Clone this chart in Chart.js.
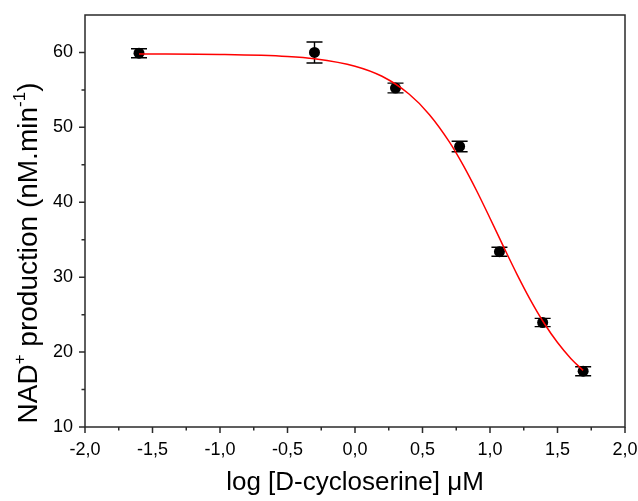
<!DOCTYPE html>
<html>
<head>
<meta charset="utf-8">
<script src="https://cdn.jsdelivr.net/npm/chart.js@4.4.1/dist/chart.umd.min.js"></script>
<style>
  html, body { margin: 0; padding: 0; background: #fff; }
  #wrap { width: 638px; height: 501px; }
</style>
</head>
<body>
<div id="wrap"><canvas id="myChart"></canvas></div>
<script>
// measured points (log concentration, rate, std error)
const logConc = [-1.6, -0.3, 0.3, 0.775, 1.07, 1.39, 1.69];
const rate = [59.9, 60.0, 55.25, 47.45, 33.4, 23.95, 17.45];
const rateErr = [0.6, 1.4, 0.65, 0.7, 0.6, 0.55, 0.6];

// dose-response fit curve
const fitX = [-1.6, -1.0, -0.5, -0.3, 0.0, 0.2, 0.4, 0.55, 0.7, 0.8, 0.9, 1.0, 1.1, 1.2, 1.3, 1.4, 1.5, 1.6, 1.69];
const fitY = [59.8, 59.73, 59.46, 59.16, 58.17, 56.82, 54.45, 51.73, 48.03, 44.99, 41.57, 37.87, 34.08, 30.38, 26.94, 23.88, 21.27, 19.12, 17.56];

// axis ticks
const xTicks = [-2.0, -1.5, -1.0, -0.5, 0.0, 0.5, 1.0, 1.5, 2.0];
const xMinor = [-1.75, -1.25, -0.75, -0.25, 0.25, 0.75, 1.25, 1.75];
const yTicks = [10, 20, 30, 40, 50, 60];
const yMinor = [15, 25, 35, 45, 55];

const fontName = "'Liberation Sans', Arial, sans-serif";

const frameAndBars = {
  id: "frameAndBars",
  beforeDatasetsDraw(chart) {
    const c = chart.ctx;
    const xs = chart.scales.x, ys = chart.scales.y;
    c.save();
    c.strokeStyle = "#000";
    c.lineWidth = 1.4;
    for (let i = 0; i < logConc.length; i++) {
      const px = xs.getPixelForValue(logConc[i]);
      const top = ys.getPixelForValue(rate[i] + rateErr[i]);
      const bot = ys.getPixelForValue(rate[i] - rateErr[i]);
      c.beginPath();
      c.moveTo(px, top); c.lineTo(px, bot);
      c.moveTo(px - 8, top); c.lineTo(px + 8, top);
      c.moveTo(px - 8, bot); c.lineTo(px + 8, bot);
      c.stroke();
    }
    c.restore();
  },
  afterDraw(chart) {
    const c = chart.ctx;
    const a = chart.chartArea;
    const xs = chart.scales.x, ys = chart.scales.y;
    c.save();
    c.strokeStyle = "#2a2a2a";
    c.lineWidth = 1.5;
    c.strokeRect(a.left, a.top, a.right - a.left, a.bottom - a.top);

    // tick marks, pointing out of the box
    c.beginPath();
    xTicks.forEach(v => { const p = xs.getPixelForValue(v); c.moveTo(p, a.bottom); c.lineTo(p, a.bottom + 6); });
    xMinor.forEach(v => { const p = xs.getPixelForValue(v); c.moveTo(p, a.bottom); c.lineTo(p, a.bottom + 3.5); });
    yTicks.forEach(v => { const p = ys.getPixelForValue(v); c.moveTo(a.left, p); c.lineTo(a.left - 6, p); });
    yMinor.forEach(v => { const p = ys.getPixelForValue(v); c.moveTo(a.left, p); c.lineTo(a.left - 3.5, p); });
    c.stroke();

    // axis titles
    c.fillStyle = "#000";
    c.textBaseline = "alphabetic";
    c.textAlign = "center";
    c.font = "26px " + fontName;
    c.fillText("log [D-cycloserine] \u03bcM", (a.left + a.right) / 2, 490);

    // y title with superscripts, drawn rotated
    const big = "28px " + fontName, small = "17px " + fontName;
    const parts = [["NAD", big, 0], ["+", small, -12], [" production (nM.min", big, 0], ["-1", small, -12], [")", big, 0]];
    let total = 0;
    parts.forEach(p => { c.font = p[1]; total += c.measureText(p[0]).width; });
    c.translate(37, 253);
    c.rotate(-Math.PI / 2);
    c.textAlign = "left";
    let x = -total / 2;
    parts.forEach(p => {
      c.font = p[1];
      c.fillText(p[0], x, p[2]);
      x += c.measureText(p[0]).width;
    });
    c.restore();
  }
};

const data = {
  datasets: [
    {
      label: "fit",
      data: fitX.map((v, i) => ({x: v, y: fitY[i]})),
      showLine: true,
      borderColor: "#ff0000",
      borderWidth: 1.5,
      pointRadius: 0,
      cubicInterpolationMode: "monotone",
    },
    {
      label: "rate",
      data: logConc.map((v, i) => ({x: v, y: rate[i]})),
      backgroundColor: "#000",
      borderColor: "#000",
      pointRadius: 5.5,
      pointBorderWidth: 0,
    },
  ],
};

const config = {
  type: "scatter",
  data: data,
  options: {
    responsive: false,
    animation: false,
    devicePixelRatio: 1,
    layout: { padding: { top: 15, right: 13, left: 0, bottom: 0 } },
    plugins: { legend: { display: false }, tooltip: { enabled: false } },
    scales: {
      x: {
        min: -2, max: 2,
        afterBuildTicks: s => { s.ticks = xTicks.map(v => ({value: v})); },
        afterFit: s => { s.height = 74; s.paddingLeft = 0; s.paddingRight = 0; },
        grid: { display: false, drawTicks: false },
        border: { display: false },
        ticks: {
          color: "#000",
          font: { family: fontName, size: 18 },
          padding: 12,
          maxRotation: 0,
          callback: v => Number(v).toFixed(1).replace(".", ","),
        },
      },
      y: {
        min: 10, max: 65,
        afterBuildTicks: s => { s.ticks = yTicks.map(v => ({value: v})); },
        afterFit: s => { s.width = 85; s.paddingTop = 0; s.paddingBottom = 0; },
        grid: { display: false, drawTicks: false },
        border: { display: false },
        ticks: {
          color: "#000",
          font: { family: fontName, size: 18 },
          padding: 12,
          callback: v => String(v),
        },
      },
    },
  },
  plugins: [frameAndBars],
};

const ctx = document.getElementById("myChart");
ctx.width = 638;
ctx.height = 501;
const myChart = new Chart(ctx, config);
</script>
</body>
</html>
